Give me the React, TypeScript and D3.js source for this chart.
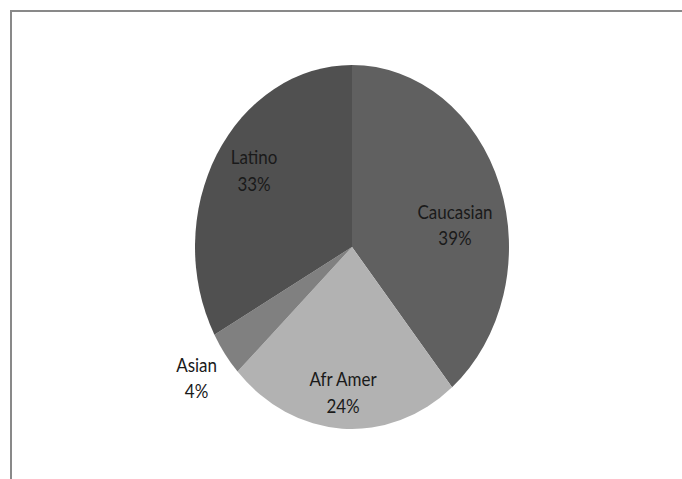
import React from "react";
import * as d3 from "d3";

const categories = ["Caucasian", "Afr Amer", "Asian", "Latino"];
const values = [39, 24, 4, 33];
const colors = ["#606060", "#b2b2b2", "#808080", "#505050"];

// label anchor positions in unit-ellipse coordinates (layout, not data)
const labelPos: [number, number][] = [
  [0.656, -0.13],
  [-0.057, 0.79],
  [-0.99, 0.71],
  [-0.624, -0.43],
];

const W = 682;
const H = 479;
const cx = 352;
const cy = 247;
const rx = 157;
const ry = 182;
const sy = ry / rx;

export default function App() {
  const pie = d3
    .pie<number>()
    .sort(null)
    .value((d) => d)
    .startAngle(0)
    .endAngle(2 * Math.PI);
  const arcs = pie(values);
  const arc = d3.arc<d3.PieArcDatum<number>>().innerRadius(0).outerRadius(rx);
  const total = d3.sum(values);

  return (
    <svg
      width={W}
      height={H}
      style={{ position: "absolute", left: 0, top: 0, background: "#fff" }}
    >
      <rect x={0} y={0} width={W} height={H} fill="#fff" />
      <rect x={11} y={11} width={W + 20} height={H + 20} fill="none" stroke="#898989" strokeWidth={2} />
      <g transform={`translate(${cx},${cy}) scale(1,${sy})`}>
        {arcs.map((a, i) => (
          <path key={categories[i]} d={arc(a) || ""} fill={colors[i]} />
        ))}
      </g>
      {arcs.map((a, i) => {
        const [ux, uy] = labelPos[i];
        const x = cx + ux * rx;
        const y = cy + uy * ry;
        const pct = Math.round((values[i] / total) * 100);
        return (
          <g key={"l" + i} transform={`translate(${x},${y}) scale(1,1.15)`}>
            <text
              textAnchor="middle"
              fontFamily="Lato, 'Open Sans', sans-serif"
              fontSize={17}
              fill="#1a1a1a"
            >
              <tspan x={0} y={-4}>{categories[i]}</tspan>
              <tspan x={0} y={19}>{pct + "%"}</tspan>
            </text>
          </g>
        );
      })}
    </svg>
  );
}
